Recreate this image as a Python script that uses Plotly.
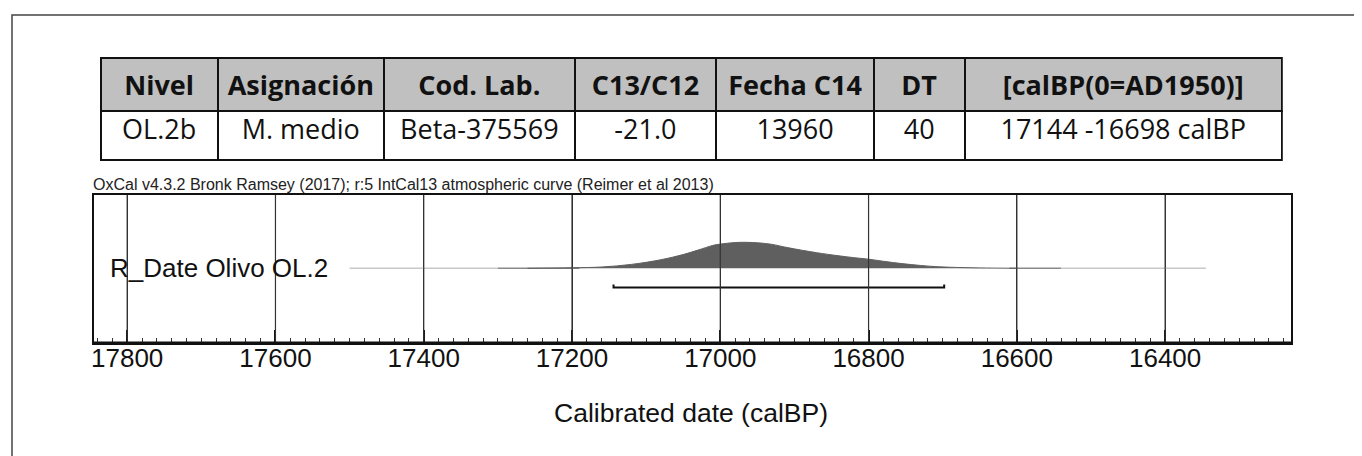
import plotly.graph_objects as go

# page places the figure 8px from the top-left corner
OFF = 8
W, H = 1362 - OFF, 456 - OFF

# ---------------- data ----------------
table_header = ["Nivel", "Asignación", "Cod. Lab.", "C13/C12", "Fecha C14", "DT", "[calBP(0=AD1950)]"]
table_row = ["OL.2b", "M. medio", "Beta-375569", "-21.0", "13960", "40", "17144 -16698 calBP"]

years = [17260, 17200, 17160, 17120, 17080, 17050, 17030, 17010, 17000, 16980, 16965,
         16945, 16930, 16910, 16870, 16840, 16820, 16800, 16780, 16755, 16730, 16710,
         16690, 16650, 16600]
density = [0.0, 0.02, 0.05, 0.15, 0.33, 0.53, 0.70, 0.88, 0.93, 0.99, 1.0,
           0.97, 0.92, 0.80, 0.60, 0.48, 0.41, 0.35, 0.27, 0.18, 0.11, 0.065,
           0.04, 0.015, 0.0]

prior_start, prior_end = 17500, 16345
range_start, range_end = 17144, 16698
tick_vals = [17800, 17600, 17400, 17200, 17000, 16800, 16600, 16400]
tick_text = [str(v) for v in tick_vals]
label = "R_Date Olivo OL.2"
title = "OxCal v4.3.2 Bronk Ramsey (2017); r:5 IntCal13 atmospheric curve (Reimer et al 2013)"
x_title = "Calibrated date (calBP)"

# ---------------- layout helpers (reference-pixel -> paper) ----------------
def px(x):
    return (x - OFF) / W

def py(y):
    return 1 - (y - OFF) / H

col_edges = [98, 215, 382, 573, 715, 873, 964, 1282]
col_widths = [col_edges[i + 1] - col_edges[i] for i in range(len(col_edges) - 1)]

fig = go.Figure()

# table
fig.add_trace(go.Table(
    domain=dict(x=[px(col_edges[0]), px(col_edges[-1])], y=[py(200), py(58)]),
    columnwidth=col_widths,
    header=dict(values=["<b>%s</b>" % h for h in table_header],
                fill_color="#c0c0c0",
                line=dict(color="#111111", width=2),
                align="center", height=53,
                font=dict(family="Open Sans", size=27, color="#111111")),
    cells=dict(values=[[v] for v in table_row],
               fill_color="white",
               line=dict(color="#111111", width=2),
               align="center", height=49,
               font=dict(family="Open Sans", size=27, color="#111111")),
))

# prior line (fading grey)
fig.add_trace(go.Scatter(x=[prior_start, 17300], y=[0, 0], mode="lines",
                         line=dict(color="#c8c8c8", width=1.5), hoverinfo="skip", showlegend=False))
fig.add_trace(go.Scatter(x=[17300, 17190], y=[0, 0], mode="lines",
                         line=dict(color="#8a8a8a", width=1.5), hoverinfo="skip", showlegend=False))
fig.add_trace(go.Scatter(x=[16610, 16540], y=[0, 0], mode="lines",
                         line=dict(color="#8a8a8a", width=1.5), hoverinfo="skip", showlegend=False))
fig.add_trace(go.Scatter(x=[16540, prior_end], y=[0, 0], mode="lines",
                         line=dict(color="#c8c8c8", width=1.5), hoverinfo="skip", showlegend=False))

# probability distribution
fig.add_trace(go.Scatter(x=years, y=density, mode="lines", fill="tozeroy",
                         fillcolor="#5f5f5f", line=dict(color="#5f5f5f", width=1, shape="spline"),
                         hoverinfo="skip", showlegend=False))

# 95.4% range bar
bar_y, bar_tick = -0.74, -0.62
fig.add_trace(go.Scatter(x=[range_start, range_start, range_end, range_end],
                         y=[bar_tick, bar_y, bar_y, bar_tick], mode="lines",
                         line=dict(color="#111111", width=2), hoverinfo="skip", showlegend=False))

x_left, x_right = 17845, 16230
plot_l, plot_r, plot_t, plot_b = 91, 1291, 195, 343
base_y = 268.3
unit = 26.0
y_lo = -(plot_b - base_y) / unit
y_hi = (base_y - plot_t) / unit

fig.update_layout(
    width=W, height=H,
    margin=dict(l=0, r=0, t=0, b=0),
    paper_bgcolor="white", plot_bgcolor="white",
    showlegend=False,
    xaxis=dict(domain=[px(plot_l), px(plot_r)], range=[x_left, x_right],
               tickmode="array", tickvals=tick_vals, ticktext=tick_text,
               ticks="inside", ticklen=13, tickwidth=1.5, tickcolor="#111111",
               minor=dict(dtick=20, tick0=17800, ticks="inside", ticklen=5,
                          tickwidth=1, tickcolor="#333333", showgrid=False),
               showgrid=True, gridcolor="#333333", gridwidth=1,
               showline=True, linecolor="#111111", linewidth=2, mirror=True,
               zeroline=False, layer="above traces", ticklabelstandoff=-9,
               tickfont=dict(family="Liberation Sans, Arial", size=26, color="#111111")),
    yaxis=dict(domain=[py(plot_b), py(plot_t)], range=[y_lo, y_hi],
               showticklabels=False, ticks="", showgrid=False, zeroline=False,
               showline=True, linecolor="#111111", linewidth=2, mirror=True),
)

# vertical grid lines above the fill
for v in tick_vals:
    fig.add_shape(type="line", xref="x", yref="paper", x0=v, x1=v,
                  y0=py(plot_b), y1=py(plot_t), line=dict(color="#333333", width=1.2), layer="above")

# thicker bottom axis line
fig.add_shape(type="line", xref="paper", yref="paper", x0=px(plot_l), x1=px(plot_r),
              y0=py(plot_b), y1=py(plot_b), line=dict(color="#111111", width=3), layer="above")

# outer frame
fig.add_shape(type="rect", xref="paper", yref="paper", x0=px(9), x1=1.02, y0=-0.02, y1=py(15),
              line=dict(color="#444444", width=1.5), layer="below")

# annotations
fig.add_annotation(text=label, xref="paper", yref="y", x=px(105), y=0,
                   xanchor="left", yanchor="middle", showarrow=False,
                   font=dict(family="Liberation Sans, Arial", size=26, color="#111111"))
fig.add_annotation(text=title, xref="paper", yref="paper", x=px(88), y=py(195),
                   xanchor="left", yanchor="bottom", showarrow=False,
                   font=dict(family="Liberation Sans, Arial", size=16, color="#222222"))
fig.add_annotation(text=x_title, xref="paper", yref="paper", x=px(690), y=py(413),
                   xanchor="center", yanchor="middle", showarrow=False,
                   font=dict(family="Liberation Sans, Arial", size=26.5, color="#111111"))

fig.write_html("out.html")
